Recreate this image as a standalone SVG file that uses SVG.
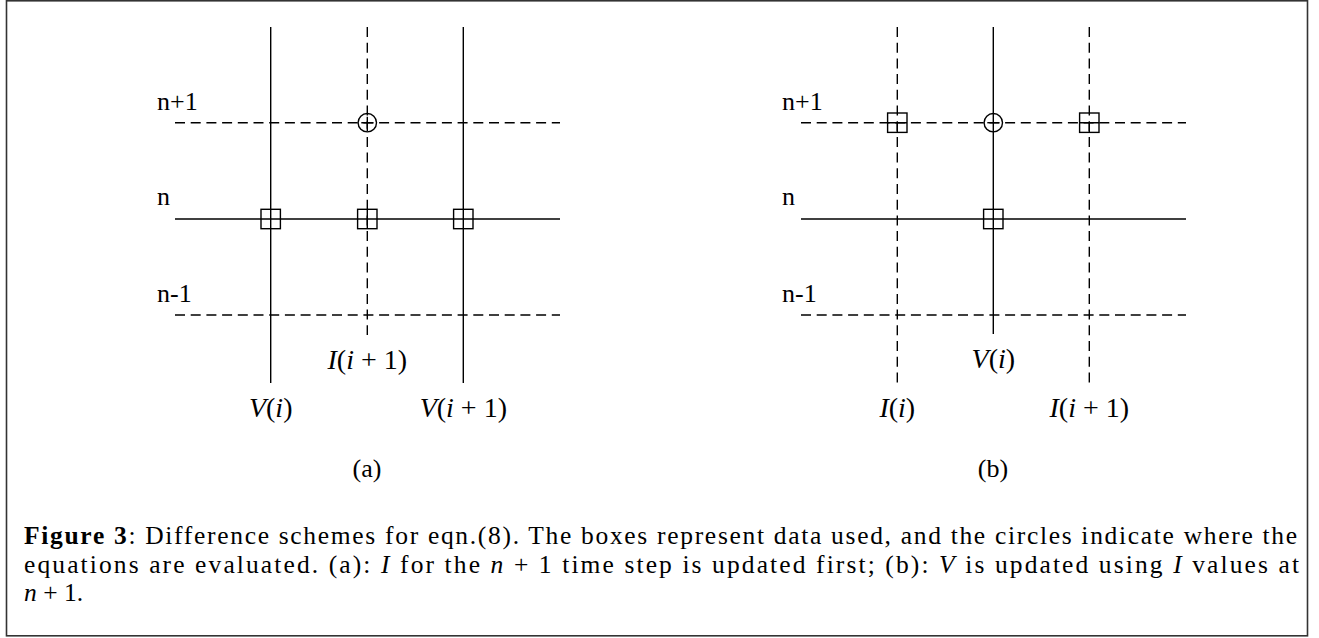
<svg xmlns="http://www.w3.org/2000/svg" width="1319" height="638" viewBox="0 0 1319 638">
<style>
.solid{stroke:#000;stroke-width:1.4;fill:none}
.dash{stroke:#000;stroke-width:1.4;fill:none;stroke-dasharray:10 5.7}
.box{stroke:#000;stroke-width:1.4;fill:none}
.t{font-family:"Liberation Serif","Times New Roman",serif;font-size:26px;fill:#000}
.m{font-family:"Liberation Serif","Times New Roman",serif;font-size:28px;fill:#000}
.c{font-family:"Liberation Serif","Times New Roman",serif;font-size:25.5px;fill:#000}
.i{font-style:italic}
</style>
<rect x="6.5" y="0.8" width="1301" height="635" fill="#fff" stroke="#333" stroke-width="1.6"/>
<g id="connectors">
  <line class="dash" x1="175" y1="122.7" x2="560" y2="122.7"/>
  <line class="solid" x1="175" y1="219" x2="560" y2="219"/>
  <line class="dash" x1="175" y1="315" x2="560" y2="315"/>
  <line class="solid" x1="270.7" y1="27" x2="270.7" y2="383"/>
  <line class="dash" x1="367.3" y1="27" x2="367.3" y2="335"/>
  <line class="solid" x1="463.3" y1="27" x2="463.3" y2="383"/>
  <line class="dash" x1="801" y1="122.7" x2="1186" y2="122.7"/>
  <line class="solid" x1="801" y1="219" x2="1186" y2="219"/>
  <line class="dash" x1="801" y1="315" x2="1186" y2="315"/>
  <line class="dash" x1="897.3" y1="27" x2="897.3" y2="383"/>
  <line class="solid" x1="993.3" y1="27" x2="993.3" y2="334"/>
  <line class="dash" x1="1089.3" y1="27" x2="1089.3" y2="383"/>
</g>
<g id="panel-a">
  <g id="a-circle"><circle class="box" cx="367.3" cy="122.7" r="9.2"/><path class="solid" d="M361.3 122.7H373.3M367.3 116.7V128.7"/></g>
  <g id="a-box1"><rect class="box" x="261" y="209.3" width="19.4" height="19.4"/></g>
  <g id="a-box2"><rect class="box" x="357.6" y="209.3" width="19.4" height="19.4"/><path class="solid" d="M367.3 209.3V228.7"/></g>
  <g id="a-box3"><rect class="box" x="453.6" y="209.3" width="19.4" height="19.4"/></g>
  <g id="a-labels">
    <text class="t" x="157" y="110">n+1</text>
    <text class="t" x="157" y="205">n</text>
    <text class="t" x="157" y="302">n-1</text>
    <text class="m" x="367.3" y="369" text-anchor="middle"><tspan class="i">I</tspan>(<tspan class="i">i</tspan> + 1)</text>
    <text class="m" x="270.7" y="417" text-anchor="middle"><tspan class="i">V</tspan>(<tspan class="i">i</tspan>)</text>
    <text class="m" x="463.3" y="417" text-anchor="middle"><tspan class="i">V</tspan>(<tspan class="i">i</tspan> + 1)</text>
    <text class="t" x="367" y="477" text-anchor="middle">(a)</text>
  </g>
</g>
<g id="panel-b">
  <g id="b-box1"><rect class="box" x="887.6" y="113" width="19.4" height="19.4"/><path class="solid" d="M887.6 122.7H907M897.3 122.7V132.4"/></g>
  <g id="b-circle"><circle class="box" cx="993.3" cy="122.7" r="9.2"/><path class="solid" d="M987.3 122.7H999.3"/></g>
  <g id="b-box2"><rect class="box" x="1079.6" y="113" width="19.4" height="19.4"/><path class="solid" d="M1079.6 122.7H1099M1089.3 122.7V132.4"/></g>
  <g id="b-box3"><rect class="box" x="983.6" y="209.3" width="19.4" height="19.4"/></g>
  <g id="b-labels">
    <text class="t" x="782" y="110">n+1</text>
    <text class="t" x="782" y="205">n</text>
    <text class="t" x="782" y="302">n-1</text>
    <text class="m" x="993.3" y="368" text-anchor="middle"><tspan class="i">V</tspan>(<tspan class="i">i</tspan>)</text>
    <text class="m" x="897.3" y="417" text-anchor="middle"><tspan class="i">I</tspan>(<tspan class="i">i</tspan>)</text>
    <text class="m" x="1089.3" y="417" text-anchor="middle"><tspan class="i">I</tspan>(<tspan class="i">i</tspan> + 1)</text>
    <text class="t" x="993" y="477" text-anchor="middle">(b)</text>
  </g>
</g>
<g id="caption">
  <text class="c" x="24" y="544" textLength="1273" lengthAdjust="spacing"><tspan font-weight="bold">Figure 3</tspan>: Difference schemes for eqn.(8). The boxes represent data used, and the circles indicate where the</text>
  <text class="c" x="24" y="572.5" textLength="1275" lengthAdjust="spacing">equations are evaluated. (a): <tspan class="i">I</tspan> for the <tspan class="i">n</tspan> + 1 time step is updated first; (b): <tspan class="i">V</tspan> is updated using <tspan class="i">I</tspan> values at</text>
  <text class="c" x="24" y="601"><tspan class="i">n</tspan> + 1.</text>
</g>
</svg>
